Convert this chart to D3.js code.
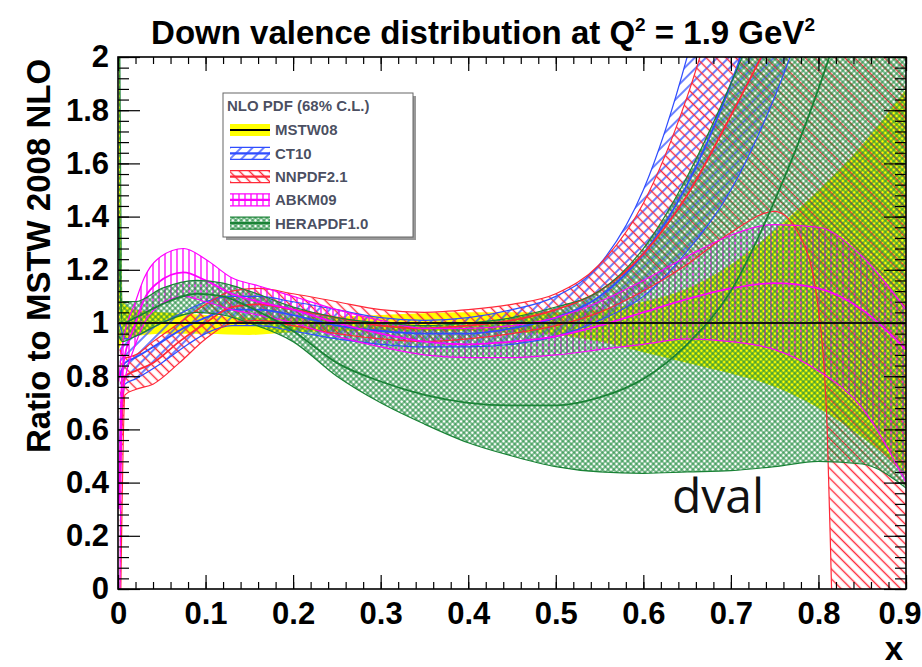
<!DOCTYPE html>
<meta charset="utf-8">
<style>
body { margin: 0; background: #fff; }
text { font-family: "Liberation Sans", Arial, Helvetica, sans-serif; }
.title { font-weight: bold; font-size: 33px; }
.ylabel { font-weight: bold; font-size: 33px; }
.axis text { font-weight: bold; font-size: 31px; fill: #000; }
.axis path { display: none; }
.axis line { stroke: #000; stroke-width: 1.2px; }
.frame { fill: none; stroke: #000; stroke-width: 1.6px; }
.edge { fill: none; stroke-width: 1.2px; }
.central { fill: none; stroke-width: 1.8px; }
.legend text { font-weight: bold; fill: #2a2f45; fill-opacity: .85; }
.dval { font-family: "Open Sans", sans-serif; font-size: 48px; fill: #111; }
</style>
<body>
<svg width="922" height="667"></svg>

<script src="https://d3js.org/d3.v7.min.js"></script>
<script>

// [x, lower, central, upper] ratio to MSTW 2008 NLO
let mstw = [
  [0.001, 0.9, 1, 2.5], [0.005, 0.93, 1, 1.08], [0.02, 0.95, 1, 1.05],
  [0.05, 0.96, 1, 1.04], [0.1, 0.96, 1, 1.03], [0.15, 0.955, 1, 1.02],
  [0.2, 0.965, 1, 1.02], [0.3, 0.97, 1, 1.03], [0.4, 0.97, 1, 1.04],
  [0.45, 0.965, 1, 1.04], [0.5, 0.955, 1, 1.04], [0.55, 0.93, 1, 1.05],
  [0.6, 0.89, 1, 1.08], [0.65, 0.85, 1, 1.13], [0.7, 0.81, 1, 1.22],
  [0.75, 0.76, 1, 1.35], [0.8, 0.68, 1, 1.5], [0.85, 0.57, 1, 1.67],
  [0.9, 0.44, 1, 1.88]
];

let ct10 = [
  [0.002, 0.55, 0.8, 1.0], [0.008, 0.77, 0.85, 0.94], [0.02, 0.79, 0.87, 0.95],
  [0.05, 0.85, 0.93, 1.0], [0.08, 0.92, 0.99, 1.05], [0.1, 0.96, 1.02, 1.08],
  [0.13, 0.99, 1.05, 1.1], [0.16, 0.99, 1.05, 1.1], [0.2, 0.97, 1.03, 1.08],
  [0.25, 0.94, 0.99, 1.05], [0.3, 0.92, 0.97, 1.02], [0.35, 0.91, 0.96, 1.01],
  [0.4, 0.91, 0.96, 1.02], [0.45, 0.92, 0.98, 1.05], [0.5, 0.95, 1.02, 1.1],
  [0.55, 1.01, 1.1, 1.22], [0.6, 1.1, 1.26, 1.5], [0.65, 1.27, 1.52, 2.0],
  [0.7, 1.5, 1.9, 2.7], [0.75, 1.85, 2.4, 3.5], [0.8, 2.3, 3.0, 4.5]
];

let nnpdf = [
  [0.002, -0.3, 0.4, 0.9], [0.008, 0.73, 0.8, 0.87], [0.02, 0.75, 0.82, 0.88],
  [0.04, 0.77, 0.85, 0.93], [0.07, 0.85, 0.93, 1.0], [0.1, 0.94, 1.0, 1.07],
  [0.13, 1.0, 1.06, 1.12], [0.16, 1.01, 1.07, 1.13], [0.2, 0.99, 1.05, 1.11],
  [0.25, 0.96, 1.02, 1.08], [0.3, 0.94, 0.99, 1.05], [0.35, 0.93, 0.98, 1.04],
  [0.4, 0.94, 0.99, 1.05], [0.45, 0.96, 1.01, 1.07], [0.5, 0.99, 1.05, 1.11],
  [0.55, 1.04, 1.12, 1.22], [0.6, 1.12, 1.26, 1.45], [0.65, 1.22, 1.48, 1.85],
  [0.7, 1.34, 1.78, 2.4], [0.75, 1.42, 2.1, 3.0], [0.78, 1.32, 2.3, 3.4],
  [0.8, 1.05, 2.4, 3.8], [0.81, 0.6, 2.45, 4.0], [0.815, 0.0, 2.5, 4.1],
  [0.82, -0.6, 2.5, 4.2], [0.9, -1.5, 2.8, 5.0]
];

let abkm = [
  [0.001, -0.5, 0.3, 0.78], [0.005, 0.72, 0.82, 0.92], [0.02, 0.92, 1.0, 1.08],
  [0.03, 1.0, 1.09, 1.17], [0.045, 1.06, 1.15, 1.24], [0.075, 1.1, 1.19, 1.28],
  [0.1, 1.08, 1.16, 1.24], [0.13, 1.05, 1.11, 1.17], [0.16, 1.03, 1.08, 1.14],
  [0.2, 1.0, 1.05, 1.1], [0.25, 0.95, 1.0, 1.05], [0.3, 0.91, 0.96, 1.01],
  [0.35, 0.88, 0.93, 0.98], [0.4, 0.87, 0.92, 0.98], [0.45, 0.87, 0.93, 0.99],
  [0.5, 0.88, 0.95, 1.02], [0.55, 0.9, 0.99, 1.08], [0.6, 0.92, 1.04, 1.16],
  [0.65, 0.94, 1.09, 1.25], [0.7, 0.93, 1.13, 1.33], [0.75, 0.9, 1.15, 1.37],
  [0.8, 0.82, 1.13, 1.36], [0.85, 0.68, 1.05, 1.25], [0.9, 0.4, 0.9, 1.05]
];

let hera = [
  [0.001, 0.95, 1.4, 2.6], [0.005, 0.93, 1.0, 1.08], [0.02, 0.95, 1.02, 1.08],
  [0.05, 1.0, 1.07, 1.13], [0.09, 1.04, 1.11, 1.16], [0.12, 1.03, 1.1, 1.15],
  [0.15, 1.0, 1.06, 1.12], [0.2, 0.93, 0.97, 1.06], [0.25, 0.8, 0.85, 1.02],
  [0.3, 0.7, 0.78, 1.0], [0.35, 0.62, 0.73, 0.99], [0.4, 0.55, 0.7, 1.0],
  [0.45, 0.5, 0.69, 1.02], [0.5, 0.46, 0.69, 1.06], [0.55, 0.44, 0.72, 1.12],
  [0.6, 0.435, 0.79, 1.28], [0.65, 0.44, 0.92, 1.55], [0.7, 0.445, 1.12, 1.9],
  [0.75, 0.46, 1.46, 2.3], [0.8, 0.48, 1.88, 2.7], [0.85, 0.47, 2.4, 3.1],
  [0.9, 0.38, 3.0, 3.5]
];

let xTicks = [0, 0.1, 0.2, 0.3, 0.4, 0.5, 0.6, 0.7, 0.8, 0.9];
let yTicks = [0, 0.2, 0.4, 0.6, 0.8, 1, 1.2, 1.4, 1.6, 1.8, 2];

let series = [
  {name: 'MSTW08', data: mstw, color: '#000000', fill: '#ffff00'},
  {name: 'CT10', data: ct10, color: '#2f4dff', fill: 'url(#hatch-ct10)'},
  {name: 'NNPDF2.1', data: nnpdf, color: '#ff2838', fill: 'url(#hatch-nnpdf)'},
  {name: 'ABKM09', data: abkm, color: '#ff00ff', fill: 'url(#hatch-abkm)'},
  {name: 'HERAPDF1.0', data: hera, color: '#1a8236', fill: 'url(#hatch-hera)'}
];

let svg = d3.select('svg');
let margin = {left: 118, right: 16, top: 57, bottom: 78};
let width = 922, height = 667;

let x = d3.scaleLinear().domain([0, 0.9]).range([margin.left, width - margin.right]);
let y = d3.scaleLinear().domain([0, 2]).range([height - margin.bottom, margin.top]);

let defs = svg.append('defs');
defs.append('clipPath').attr('id', 'plot-clip')
  .append('rect')
  .attr('x', x(0)).attr('y', y(2))
  .attr('width', x(0.9) - x(0)).attr('height', y(0) - y(2));

function hatch(id, color, angle, gap, w, cross) {
  let p = defs.append('pattern')
    .attr('id', id)
    .attr('patternUnits', 'userSpaceOnUse')
    .attr('width', gap).attr('height', gap)
    .attr('patternTransform', 'rotate(' + angle + ')');
  p.append('line')
    .attr('x1', gap / 2).attr('y1', 0).attr('x2', gap / 2).attr('y2', gap)
    .attr('stroke', color).attr('stroke-width', w);
  if (cross) {
    p.append('line')
      .attr('x1', 0).attr('y1', gap / 2).attr('x2', gap).attr('y2', gap / 2)
      .attr('stroke', color).attr('stroke-width', w);
  }
}
hatch('hatch-ct10', '#2f4dff', 45, 8, 1.4);
hatch('hatch-nnpdf', '#ff2838', -45, 7, 1.4);
hatch('hatch-abkm', '#ff00ff', 0, 6, 1.3);
hatch('hatch-hera', '#1c8a3c', 45, 4, 1.1, true);

let area = d3.area()
  .x(d => x(d[0]))
  .y0(d => y(d[1]))
  .y1(d => y(d[3]))
  .curve(d3.curveMonotoneX);

function line(k) {
  return d3.line()
    .x(d => x(d[0]))
    .y(d => y(d[k]))
    .curve(d3.curveMonotoneX);
}

let plot = svg.append('g').attr('clip-path', 'url(#plot-clip)');

// bands
plot.selectAll('path.band')
  .data(series)
  .enter()
  .append('path')
  .attr('class', 'band')
  .attr('d', d => area(d.data))
  .attr('fill', d => d.fill);

// band edges and central values
series.slice(1).forEach(function(s) {
  [1, 3].forEach(function(k) {
    plot.append('path')
      .datum(s.data)
      .attr('class', 'edge')
      .attr('stroke', s.color)
      .attr('d', line(k));
  });
  plot.append('path')
    .datum(s.data)
    .attr('class', 'central')
    .attr('stroke', s.color)
    .attr('d', line(2));
});

plot.append('path')
  .datum(mstw)
  .attr('class', 'central')
  .attr('stroke', '#111')
  .attr('stroke-width', 2.2)
  .attr('d', line(2));

// axes, ROOT style ticks on all sides
let minorX = d3.range(0, 0.9001, 0.02);
let minorY = d3.range(0, 2.0001, 0.04);
let fmt = d3.format('~g');

svg.append('g').attr('class', 'axis')
  .attr('transform', 'translate(0,' + y(0) + ')')
  .call(d3.axisBottom(x).tickValues(xTicks).tickSize(-14).tickPadding(7).tickFormat(fmt))
  .call(g => g.selectAll('text').attr('dy', '0.9em'))
  .call(g => g.selectAll('.tick:last-of-type text').attr('text-anchor', 'end').attr('x', 15));
svg.append('g').attr('class', 'axis')
  .attr('transform', 'translate(0,' + y(0) + ')')
  .call(d3.axisBottom(x).tickValues(minorX).tickSize(-7).tickFormat(''));
svg.append('g').attr('class', 'axis')
  .attr('transform', 'translate(0,' + y(2) + ')')
  .call(d3.axisTop(x).tickValues(xTicks).tickSize(-14).tickFormat(''));
svg.append('g').attr('class', 'axis')
  .attr('transform', 'translate(0,' + y(2) + ')')
  .call(d3.axisTop(x).tickValues(minorX).tickSize(-7).tickFormat(''));

svg.append('g').attr('class', 'axis')
  .attr('transform', 'translate(' + x(0) + ',0)')
  .call(d3.axisLeft(y).tickValues(yTicks).tickSize(-22).tickPadding(9).tickFormat(fmt));
svg.append('g').attr('class', 'axis')
  .attr('transform', 'translate(' + x(0) + ',0)')
  .call(d3.axisLeft(y).tickValues(minorY).tickSize(-11).tickFormat(''));
svg.append('g').attr('class', 'axis')
  .attr('transform', 'translate(' + x(0.9) + ',0)')
  .call(d3.axisRight(y).tickValues(yTicks).tickSize(-22).tickFormat(''));
svg.append('g').attr('class', 'axis')
  .attr('transform', 'translate(' + x(0.9) + ',0)')
  .call(d3.axisRight(y).tickValues(minorY).tickSize(-11).tickFormat(''));

svg.append('rect')
  .attr('class', 'frame')
  .attr('x', x(0)).attr('y', y(2))
  .attr('width', x(0.9) - x(0)).attr('height', y(0) - y(2));

// titles
let title = svg.append('text')
  .attr('class', 'title')
  .attr('x', 483).attr('y', 44)
  .attr('text-anchor', 'middle');
title.append('tspan').text('Down valence distribution at Q');
title.append('tspan').attr('dy', -13).attr('font-size', 19).text('2');
title.append('tspan').attr('dy', 13).text(' = 1.9 GeV');
title.append('tspan').attr('dy', -13).attr('font-size', 19).text('2');

svg.append('text')
  .attr('class', 'ylabel')
  .attr('transform', 'translate(50,256) rotate(-90)')
  .attr('text-anchor', 'middle')
  .text('Ratio to MSTW 2008 NLO');

svg.append('text')
  .attr('class', 'title')
  .attr('x', 903).attr('y', 660)
  .attr('text-anchor', 'end')
  .attr('font-size', 26)
  .text('x');

svg.append('text')
  .attr('class', 'dval')
  .attr('x', 672).attr('y', 513)
  .text('dval');

// legend
let legend = svg.append('g').attr('class', 'legend');
legend.append('rect')
  .attr('x', 226).attr('y', 96).attr('width', 190).attr('height', 144)
  .attr('fill', '#999');
legend.append('rect')
  .attr('x', 223).attr('y', 93).attr('width', 190).attr('height', 144)
  .attr('fill', '#fff').attr('stroke', '#666').attr('stroke-width', 1);
legend.append('text')
  .attr('x', 227).attr('y', 111)
  .attr('font-size', 15)
  .text('NLO PDF (68% C.L.)');

let rows = legend.selectAll('g.row')
  .data(series)
  .enter()
  .append('g')
  .attr('class', 'row')
  .attr('transform', (d, i) => 'translate(230,' + (130 + i * 23.3) + ')');

rows.append('rect')
  .attr('x', 0).attr('y', -6).attr('width', 40).attr('height', 12)
  .attr('fill', d => d.fill);
rows.filter((d, i) => i > 0).each(function(d) {
  let g = d3.select(this);
  [-6, 6].forEach(function(v) {
    g.append('line').attr('x1', 0).attr('x2', 40).attr('y1', v).attr('y2', v)
      .attr('stroke', d.color).attr('stroke-width', 1.2);
  });
});
rows.append('line')
  .attr('x1', 0).attr('x2', 40).attr('y1', 0).attr('y2', 0)
  .attr('stroke', d => d.color).attr('stroke-width', 2.2);
rows.append('text')
  .attr('x', 45).attr('y', 0).attr('dy', '0.36em')
  .attr('font-size', 15)
  .text(d => d.name);

</script>
</body>
